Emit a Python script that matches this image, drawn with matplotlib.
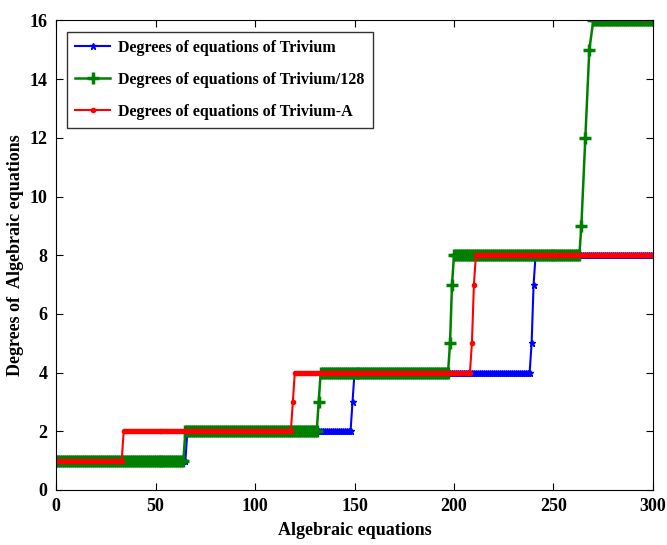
import numpy as np
import matplotlib
matplotlib.use("Agg")
import matplotlib.pyplot as plt

plt.rcParams['font.family'] = ['Liberation Serif', 'DejaVu Serif']
plt.rcParams['font.weight'] = 'bold'

# flat runs: (first x, last x, degree), and single points on the jumps
trivium_runs = [(0, 65, 1), (66, 148, 2), (150, 238, 4), (241, 300, 8)]
trivium_steps = [(149, 3), (239, 5), (240, 7)]

t128_runs = [(0, 64, 1), (65, 131, 2), (133, 197, 4), (200, 263, 8), (270, 300, 16)]
t128_steps = [(132, 3), (198, 5), (199, 7), (264, 9), (266, 12), (268, 15)]

triviumA_runs = [(0, 33, 1), (34, 118, 2), (120, 208, 4), (211, 300, 8)]
triviumA_steps = [(119, 3), (209, 5), (210, 7)]

labels = ["Degrees of equations of Trivium",
          "Degrees of equations of Trivium/128",
          "Degrees of equations of Trivium-A"]


def build(runs, steps):
    xs, ys = [], []
    for a, b, v in runs:
        for i in range(a, b + 1):
            xs.append(i)
            ys.append(v)
    for i, v in steps:
        xs.append(i)
        ys.append(v)
    order = np.argsort(xs)
    return np.array(xs)[order], np.array(ys)[order]


fig = plt.figure(figsize=(6.67, 5.45), dpi=100)
ax = fig.add_axes([0.084, 0.101, 0.895, 0.8615])

x, y = build(trivium_runs, trivium_steps)
ax.plot(x, y, color='#0000ff', marker='*', markersize=5, linewidth=1.5, label=labels[0])
x, y = build(t128_runs, t128_steps)
ax.plot(x, y, color='#008000', marker='+', markersize=9, markeredgewidth=2.5, linewidth=1.8, label=labels[1])
x, y = build(triviumA_runs, triviumA_steps)
ax.plot(x, y, color='#ff0000', marker='.', markersize=6, linewidth=1.5, label=labels[2])

ax.set_xlim(0, 300)
ax.set_ylim(0, 16)
ax.set_xticks(np.arange(0, 301, 50))
ax.set_yticks(np.arange(0, 17, 2))
ax.tick_params(direction='in', top=True, right=True, length=5, labelsize=13, pad=6)
for lab in ax.get_xticklabels() + ax.get_yticklabels():
    lab.set_fontweight('bold')

ax.set_xlabel("Algebraic equations", fontsize=13, fontweight='bold', labelpad=5)
ax.set_ylabel("Degrees of  Algebraic equations", fontsize=13, fontweight='bold', labelpad=4)

leg = ax.legend(loc='upper left', frameon=True, fancybox=False,
                edgecolor='black', borderaxespad=0.7, handlelength=2.2,
                labelspacing=1.0, borderpad=0.5, handletextpad=0.5,
                prop={'weight': 'bold', 'size': 11.5})
leg.get_frame().set_linewidth(1.0)

fig.savefig("out.png", dpi=100)
